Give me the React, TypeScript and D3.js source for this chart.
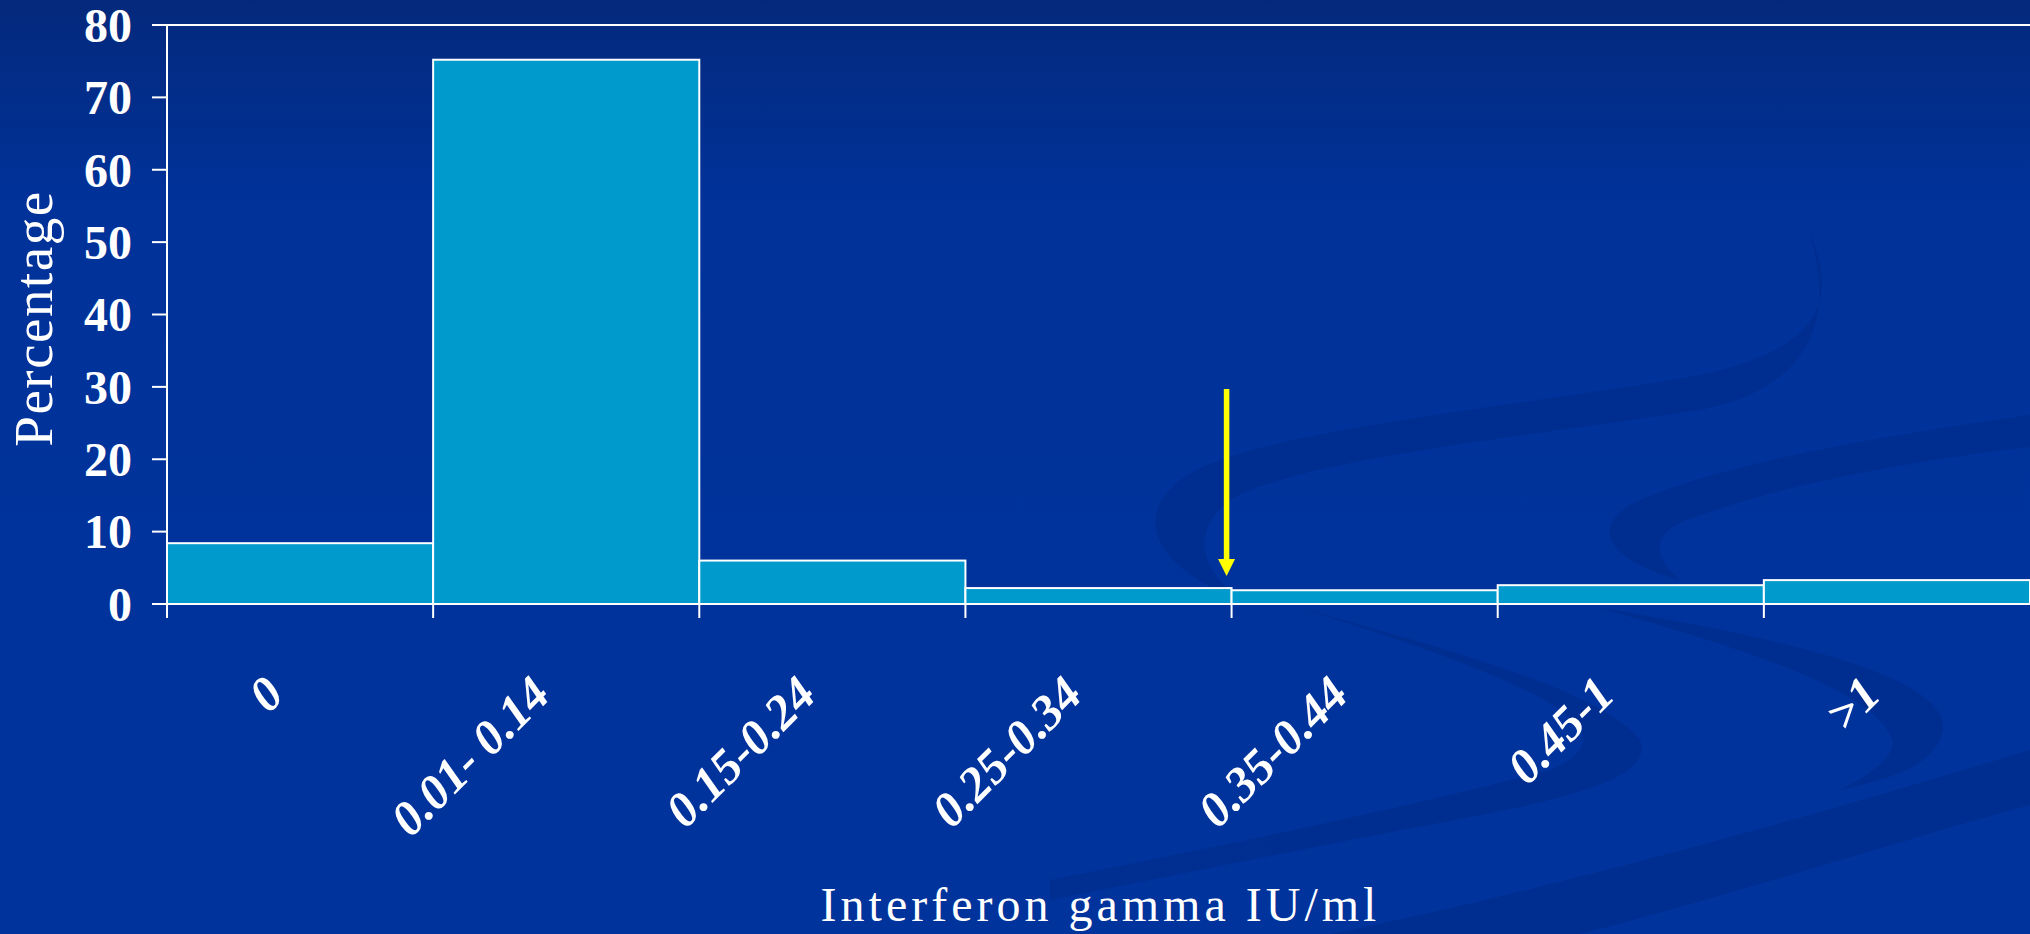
import React from "react";
import * as d3 from "d3";

const categories = ["0", "0.01- 0.14", "0.15-0.24", "0.25-0.34", "0.35-0.44", "0.45-1", ">1"];
const percentages = [8.4, 75.2, 6.0, 2.2, 1.9, 2.6, 3.3];
const yTicks = [0, 10, 20, 30, 40, 50, 60, 70, 80];
const yLabel = "Percentage";
const xLabel = "Interferon gamma IU/ml";
const arrowCategory = "0.35-0.44";

const W = 2030;
const H = 934;
const M = { left: 167, right: 0, top: 25, bottom: 330 };

export default function App() {
  const x = d3.scaleBand<string>().domain(categories).range([M.left, W - M.right]).padding(0);
  const y = d3.scaleLinear().domain([0, 80]).range([H - M.bottom, M.top]);
  const bw = x.bandwidth();
  const y0 = y(0);
  const serif = "'Liberation Serif', 'DejaVu Serif', serif";
  const arrowX = (x(arrowCategory) as number) - 5;

  return (
    <svg width={W} height={H} style={{ position: "absolute", left: 0, top: 0, display: "block" }}>
      <defs>
        <linearGradient id="bg" x1="0" y1="0" x2="0" y2="1">
          <stop offset="0%" stopColor="#04297c" />
          <stop offset="22%" stopColor="#00329a" />
          <stop offset="100%" stopColor="#00339c" />
        </linearGradient>
      </defs>
      <rect x={0} y={0} width={W} height={H} fill="url(#bg)" />
      {/* decorative background swooshes */}
      <g fill="#002a86" opacity={0.5}>
        <path d="M1809,232 C1840,300 1820,350 1700,375 C1500,410 1250,430 1180,480 C1130,520 1160,570 1240,600 C1200,570 1190,530 1230,500 C1300,460 1500,440 1700,410 C1800,390 1840,330 1809,232 Z" />
        <path d="M1296,607 C1450,650 1600,690 1640,740 C1660,790 1500,810 1350,840 C1250,860 1150,880 1050,900 L1050,880 C1200,850 1400,810 1550,770 C1620,740 1600,700 1296,607 Z" />
        <path d="M2030,415 C1850,440 1700,470 1630,505 C1590,530 1610,560 1680,580 C1650,555 1650,530 1700,515 C1800,480 1920,460 2030,447 Z" />
        <path d="M1600,608 C1800,640 1950,680 1943,730 C1935,770 1880,780 1840,790 C1880,770 1900,750 1890,735 C1870,690 1750,650 1600,608 Z" />
        <path d="M2030,750 C1800,820 1550,890 1330,934 L1580,934 C1750,890 1900,840 2030,805 Z" />
      </g>

      {/* bars */}
      {categories.map((c, i) => (
        <rect
          key={c}
          x={x(c) as number}
          y={y(percentages[i])}
          width={bw}
          height={y0 - y(percentages[i])}
          fill="#009acd"
          stroke="#ffffff"
          strokeWidth={2}
        />
      ))}

      {/* plot frame: top line and baseline */}
      <line x1={M.left - 15} x2={W} y1={y(80)} y2={y(80)} stroke="#fff" strokeWidth={2} />
      <line x1={M.left - 15} x2={W} y1={y0} y2={y0} stroke="#fff" strokeWidth={2} />
      {/* y axis */}
      <line x1={M.left} x2={M.left} y1={y(80)} y2={y0 + 14} stroke="#fff" strokeWidth={2} />
      {yTicks.map((t) => (
        <g key={t}>
          <line x1={M.left - 15} x2={M.left} y1={y(t)} y2={y(t)} stroke="#fff" strokeWidth={2} />
          <text
            x={132}
            y={y(t)}
            dy="0.35em"
            textAnchor="end"
            fill="#fff"
            fontFamily={serif}
            fontWeight="bold"
            fontSize={48}
          >
            {t}
          </text>
        </g>
      ))}

      {/* x ticks at category boundaries */}
      {categories.map((c) => (
        <line
          key={"t" + c}
          x1={(x(c) as number)}
          x2={(x(c) as number)}
          y1={y0}
          y2={y0 + 14}
          stroke="#fff"
          strokeWidth={2}
        />
      ))}
      {categories.map((c) => {
        const cx = (x(c) as number) + bw / 2 - 14;
        const cy = 697;
        return (
          <text
            key={"l" + c}
            transform={`translate(${cx},${cy}) rotate(-45)`}
            textAnchor="end"
            fill="#fff"
            fontFamily={serif}
            fontStyle="italic"
            fontWeight="bold"
            fontSize={49}
          >
            {c}
          </text>
        );
      })}

      {/* axis titles */}
      <text
        transform={`translate(52,${(y(80) + y0) / 2 + 4}) rotate(-90)`}
        textAnchor="middle"
        fill="#fff"
        fontFamily={serif}
        fontSize={55}
        letterSpacing={1.5}
      >
        {yLabel}
      </text>
      <text
        x={(M.left + W) / 2 + 2}
        y={921}
        textAnchor="middle"
        fill="#fff"
        fontFamily={serif}
        fontSize={48}
        letterSpacing={4}
      >
        {xLabel}
      </text>

      {/* yellow arrow */}
      <rect x={arrowX - 2.75} y={389} width={5.5} height={172} fill="#ffff00" />
      <path
        d={`M${arrowX - 8.5},559 L${arrowX + 8.5},559 L${arrowX},576 Z`}
        fill="#ffff00"
      />
    </svg>
  );
}
